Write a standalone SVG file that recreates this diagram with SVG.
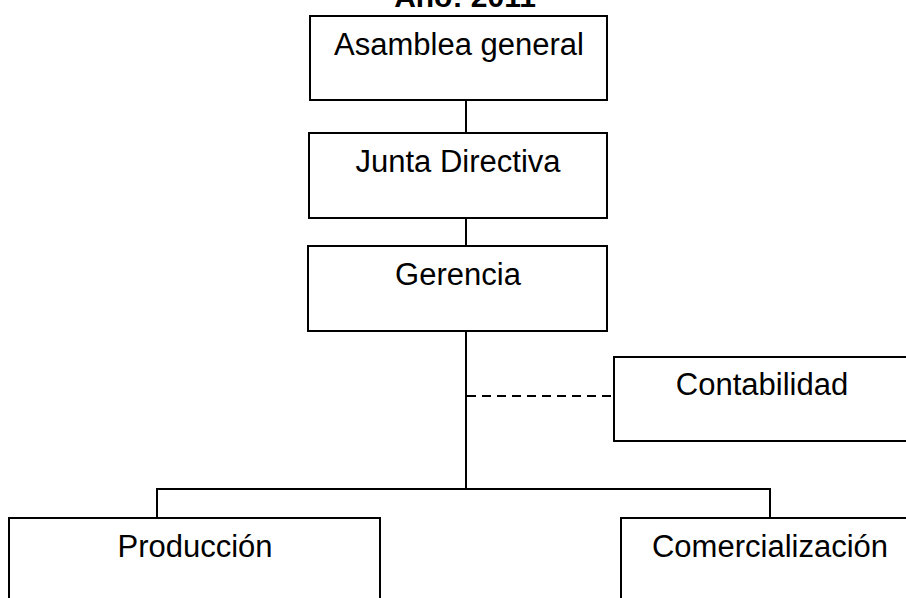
<svg xmlns="http://www.w3.org/2000/svg" width="906" height="598" viewBox="0 0 906 598">
<style>
.box{fill:#fff;stroke:#000;stroke-width:2}
.t{font-family:"Liberation Sans",Arial,sans-serif;font-size:31px;fill:#000;text-anchor:middle}
.ln{fill:none;stroke:#000;stroke-width:2}
.dash{fill:none;stroke:#000;stroke-width:2;stroke-dasharray:9 6}
</style>
<rect width="906" height="598" fill="#fff"/>
<text x="465" y="7" class="t" style="font-weight:bold;font-size:30px">Año: 2011</text>
<g id="connectors">
<line class="ln" x1="466" y1="100" x2="466" y2="133"/>
<line class="ln" x1="466" y1="218" x2="466" y2="246"/>
<line class="ln" x1="466" y1="331" x2="466" y2="489"/>
<line class="dash" x1="467" y1="396" x2="613" y2="396"/>
<polyline class="ln" points="157,518 157,489 770,489 770,518"/>
</g>
<g id="asamblea">
<rect class="box" x="310" y="16" width="297" height="84"/>
<text class="t" x="459" y="55">Asamblea general</text>
</g>
<g id="junta">
<rect class="box" x="309" y="133" width="298" height="85"/>
<text class="t" x="458" y="172">Junta Directiva</text>
</g>
<g id="gerencia">
<rect class="box" x="308" y="246" width="299" height="85"/>
<text class="t" x="458" y="285">Gerencia</text>
</g>
<g id="contabilidad">
<rect class="box" x="614" y="357" width="300" height="84"/>
<text class="t" x="762" y="395">Contabilidad</text>
</g>
<g id="produccion">
<rect class="box" x="9" y="518" width="371" height="100"/>
<text class="t" x="195" y="557">Producción</text>
</g>
<g id="comercializacion">
<rect class="box" x="621" y="518" width="300" height="100"/>
<text class="t" x="770" y="557">Comercialización</text>
</g>
</svg>
